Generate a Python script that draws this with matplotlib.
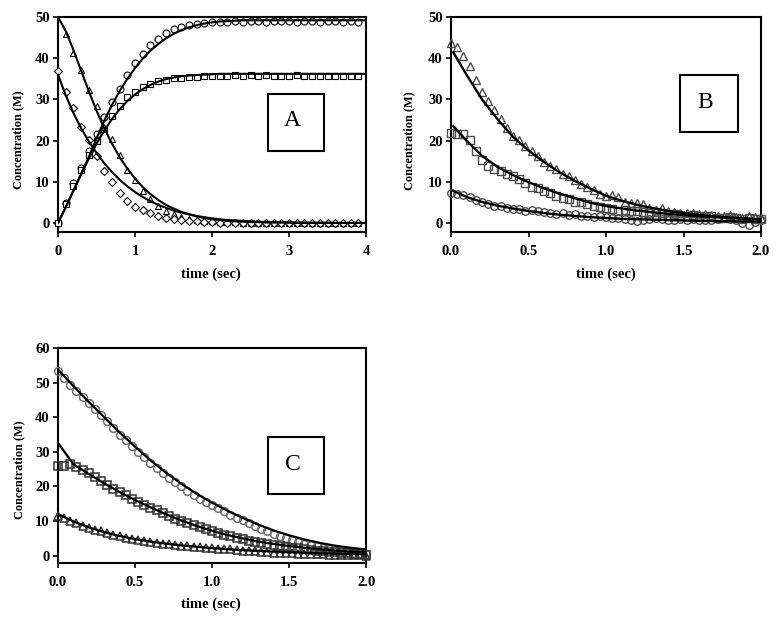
import numpy as np
import matplotlib
matplotlib.use("Agg")
import matplotlib.pyplot as plt
from matplotlib.patches import Rectangle

plt.rcParams['font.family'] = ['Liberation Serif', 'DejaVu Serif']

# ---------------- panel A ----------------
t_a = np.round(np.arange(0, 4.0, 0.1), 1)        # sampled points
t_a_fit = np.round(np.arange(0, 4.01, 0.1), 1)   # fitted curves

a_circle = [0, 4.9, 9.6, 13.4, 17.5, 21.5, 25.6, 29.4, 32.6, 35.8,
            38.8, 41.1, 43.2, 44.7, 46.2, 47.0, 47.6, 48.0, 48.4, 48.6,
            48.8, 48.8, 48.9, 49.0, 48.9, 49.0, 49.0, 48.9, 49.0, 49.0,
            49.0, 48.9, 49.0, 49.0, 48.9, 49.0, 49.0, 48.9, 49.0, 48.9]
a_square = [0, 4.5, 9.0, 12.8, 16.5, 20.0, 22.8, 25.9, 28.5, 30.6,
            31.9, 33.0, 33.8, 34.4, 34.8, 35.1, 35.3, 35.4, 35.5, 35.6,
            35.6, 35.7, 35.7, 35.8, 35.7, 35.8, 35.7, 35.8, 35.7, 35.6,
            35.7, 35.8, 35.7, 35.6, 35.7, 35.6, 35.6, 35.7, 35.6, 35.6]
a_triangle = [np.nan, 45.8, 41.3, 37.2, 32.2, 28.3, 23.2, 20.4, 16.5, 12.8,
              10.4, 7.8, 5.7, 4.1, 2.9, 2.2, 1.5, 1.0, 0.7, 0.5,
              0.4, 0.3, 0.2, 0.2, 0.1, 0.1, 0.1, 0.1, 0.1, 0.1,
              0.1, 0.1, 0.1, 0.1, 0.1, 0.1, 0.1, 0.1, 0.1, 0.1]
a_diamond = [37, 31.8, 27.8, 23.3, 20.2, 16.3, 12.6, 10.0, 7.3, 5.4,
             3.9, 3.1, 2.3, 1.7, 1.2, 0.9, 0.7, 0.5, 0.4, 0.3,
             0.2, 0.1, 0.1, 0, 0, 0, 0, 0, 0, 0,
             0, 0, 0, 0, 0, 0, 0, 0, 0, 0]

a_circle_fit = [0, 3.8, 7.8, 11.9, 16.0, 20.5, 24.8, 28.6, 32.0, 35.0,
                37.6, 39.9, 41.8, 43.4, 44.8, 45.9, 46.8, 47.5, 48.0, 48.4,
                48.7, 48.9, 49.0, 49.1, 49.2, 49.2, 49.2, 49.2, 49.2, 49.2,
                49.2, 49.2, 49.2, 49.2, 49.2, 49.2, 49.2, 49.2, 49.2, 49.2, 49.2]
a_square_fit = [0, 3.8, 7.8, 11.8, 15.6, 19.2, 22.4, 25.2, 27.6, 29.6,
                31.2, 32.5, 33.5, 34.3, 34.9, 35.3, 35.6, 35.8, 35.9, 36.0,
                36.1, 36.2, 36.2, 36.2, 36.2, 36.2, 36.2, 36.2, 36.2, 36.2,
                36.2, 36.2, 36.2, 36.2, 36.2, 36.2, 36.2, 36.2, 36.2, 36.2, 36.2]
a_triangle_fit = [50, 46.6, 42.0, 37.0, 32.0, 27.3, 23.0, 19.3, 16.0, 13.2,
                  10.8, 8.7, 7.0, 5.6, 4.4, 3.5, 2.7, 2.1, 1.6, 1.2,
                  0.9, 0.7, 0.5, 0.4, 0.3, 0.2, 0.2, 0.1, 0.1, 0.1,
                  0.1, 0, 0, 0, 0, 0, 0, 0, 0, 0, 0]
a_diamond_fit = [36, 31.0, 26.7, 23.0, 19.8, 17.0, 14.5, 12.4, 10.5, 8.9,
                 7.5, 6.3, 5.3, 4.4, 3.7, 3.0, 2.5, 2.1, 1.7, 1.4,
                 1.1, 0.9, 0.7, 0.6, 0.5, 0.4, 0.3, 0.25, 0.2, 0.15,
                 0.1, 0.1, 0.1, 0.05, 0.05, 0.05, 0, 0, 0, 0, 0]

# ---------------- panel B ----------------
t_bc = np.round(np.arange(0, 2.001, 0.04), 2)
t_b_fit = [0.015, 0.1, 0.2, 0.3, 0.4, 0.5, 0.6, 0.7, 0.8, 0.9, 1.0,
           1.1, 1.2, 1.3, 1.4, 1.5, 1.6, 1.7, 1.8, 1.9, 2.0]

b_top = [43.8, 42.8, 40.5, 38.2, 34.8, 31.8, 29.6, 27.4, 25.3, 23.0,
         21.0, 20.2, 18.6, 17.5, 16.3, 14.8, 13.8, 13.0, 12.0, 11.5,
         10.4, 9.5, 8.7, 8.0, 7.1, 6.6, 6.7, 6.4, 5.2, 4.8,
         4.9, 4.5, 3.6, 3.2, 3.6, 3.0, 2.7, 2.4, 2.5, 2.3,
         2.1, 2.2, 1.9, 1.7, 1.8, 1.9, 1.5, 1.3, 1.6, 1.4, 1.3]
b_mid = [21.8, 21.6, 21.5, 20.2, 17.5, 15.4, 13.8, 13.0, 12.5, 11.8,
         11.4, 10.6, 9.6, 8.8, 8.4, 7.7, 7.2, 6.6, 6.0, 5.8,
         5.2, 5.0, 4.5, 4.2, 3.9, 3.6, 3.3, 3.0, 3.1, 2.9,
         3.0, 2.6, 2.4, 2.6, 2.3, 2.0, 2.2, 1.9, 1.8, 1.9,
         1.6, 1.5, 1.6, 1.3, 1.2, 1.4, 1.1, 1.0, 1.2, 0.9, 1.0]
b_low = [7.2, 7.0, 6.7, 6.3, 5.6, 5.2, 4.6, 4.0, 4.1, 3.7,
         3.4, 3.3, 3.0, 3.1, 2.8, 2.7, 2.4, 2.2, 2.3, 2.0,
         2.1, 1.8, 1.6, 1.5, 1.6, 1.4, 1.3, 1.2, 1.0, 0.8,
         0.5, 0.7, 1.0, 1.2, 1.0, 0.6, 0.8, 0.9, 0.8, 1.0,
         0.7, 0.6, 0.8, 1.0, 1.2, 1.0, 0.7, 0.1, -0.4, 0.2, 0.6]

b_top_fit = [41.4, 36.0, 30.0, 25.2, 20.9, 17.6, 14.8, 12.3, 10.2, 8.3,
             6.6, 5.4, 4.4, 3.6, 2.9, 2.4, 2.0, 1.6, 1.3, 1.1, 0.9]
b_mid_fit = [23.5, 20.0, 16.3, 13.6, 11.6, 9.9, 8.4, 7.1, 6.0, 4.9,
             4.1, 3.5, 3.0, 2.6, 2.2, 1.9, 1.6, 1.4, 1.2, 1.0, 0.9]
b_low_fit = [7.8, 6.3, 5.1, 4.2, 3.5, 2.9, 2.4, 2.0, 1.7, 1.4,
             1.2, 1.0, 0.9, 0.8, 0.7, 0.6, 0.5, 0.45, 0.4, 0.35, 0.3]

# ---------------- panel C ----------------
t_c_fit = [0, 0.1, 0.2, 0.3, 0.4, 0.5, 0.6, 0.7, 0.8, 0.9, 1.0,
           1.1, 1.2, 1.3, 1.4, 1.5, 1.6, 1.7, 1.8, 1.9, 2.0]

c_top = [53.3, 51.4, 49.4, 47.6, 45.8, 44.0, 42.3, 40.6, 38.8, 36.9,
         35.0, 33.3, 31.6, 30.0, 28.4, 26.8, 25.3, 23.9, 22.5, 21.3,
         20.0, 18.8, 17.6, 16.5, 15.5, 14.6, 13.7, 12.8, 11.9, 11.0,
         10.2, 9.4, 8.6, 7.8, 7.0, 6.3, 5.6, 5.0, 4.4, 3.9,
         3.4, 3.0, 2.7, 2.3, 2.0, 1.7, 1.5, 1.2, 0.9, 0.7, 0.4]
c_mid = [26.0, 25.9, 26.6, 25.5, 24.7, 23.9, 22.8, 21.6, 20.5, 19.4,
         18.3, 17.4, 16.5, 15.6, 14.7, 13.9, 13.1, 12.3, 11.5, 10.7,
         10.0, 9.4, 8.8, 8.2, 7.6, 7.0, 6.5, 6.0, 5.6, 5.1,
         4.7, 4.3, 4.0, 3.6, 3.3, 3.0, 2.8, 2.5, 2.3, 2.1,
         1.9, 1.7, 1.5, 1.3, 1.2, 1.0, 0.8, 0.7, 0.5, 0.4, 0.3]
c_low = [11.5, 10.9, 10.1, 9.4, 8.7, 8.0, 7.5, 7.0, 6.5, 6.0,
         5.6, 5.2, 4.9, 4.6, 4.3, 4.0, 3.8, 3.5, 3.3, 3.1,
         2.9, 2.8, 2.6, 2.4, 2.3, 2.2, 2.0, 1.9, 1.8, 1.7,
         1.5, 1.4, 1.3, 1.2, 1.1, 0.9, 0.8, 0.7, 0.7, 0.6,
         0.5, 0.5, 0.4, 0.4, 0.3, 0.3, 0.2, 0.2, 0.1, 0.1, 0.0]

c_top_fit = [53.8, 49.0, 44.4, 40.0, 35.6, 31.5, 27.6, 24.0, 20.8, 17.9,
             15.3, 13.0, 10.9, 9.0, 7.3, 5.9, 4.7, 3.7, 2.9, 2.3, 1.8]
c_mid_fit = [32.6, 26.4, 23.6, 20.9, 18.4, 16.1, 14.0, 12.0, 10.2, 8.6,
             7.2, 6.0, 5.0, 4.1, 3.4, 2.8, 2.3, 1.9, 1.5, 1.2, 1.0]
c_low_fit = [12.0, 9.9, 8.2, 6.8, 5.7, 4.8, 4.1, 3.5, 3.0, 2.6,
             2.2, 1.9, 1.6, 1.4, 1.2, 1.0, 0.85, 0.7, 0.6, 0.5, 0.4]


W, H = 778, 624
fig = plt.figure(figsize=(W / 100, H / 100), dpi=100)


def px_axes(left, right, top, bottom):
    return fig.add_axes([left / W, 1 - bottom / H, (right - left) / W, (bottom - top) / H])


def style(ax, xlim, ylim, xticks, xfmt, yticks, ylab_xy, xlab_xy):
    ax.set_xlim(*xlim)
    ax.set_ylim(*ylim)
    ax.set_xticks(xticks)
    ax.set_xticklabels([xfmt.format(v) for v in xticks])
    ax.set_yticks(yticks)
    for s in ax.spines.values():
        s.set_linewidth(1.5)
    ax.tick_params(direction='out', length=3.6, width=1.2, labelsize=10.5)
    ax.tick_params(axis='x', pad=5.5)
    ax.tick_params(axis='y', pad=2.5)
    for lab in ax.get_xticklabels() + ax.get_yticklabels():
        lab.set_fontweight('bold')
    ax.set_xlabel('time (sec)', fontsize=10.5, fontweight='bold')
    ax.set_ylabel('Concentration (M)', fontsize=8.8, fontweight='bold')
    ax.yaxis.set_label_coords(*ylab_xy)
    ax.xaxis.set_label_coords(*xlab_xy)


def letter_box(ax, box, letter, pos):
    x0, x1, y0, y1 = box
    ax.add_patch(Rectangle((x0, y0), x1 - x0, y1 - y0, transform=ax.transAxes,
                           fill=False, lw=1.5, ec='black', zorder=5))
    ax.text(pos[0], pos[1], letter, transform=ax.transAxes, fontsize=17,
            ha='center', va='baseline', zorder=6)


# ---- A ----
axA = px_axes(58, 366, 17, 232)
mk = dict(ls='none', mfc='white', mec='black', mew=0.8, clip_on=False, zorder=3)
axA.plot(t_a, a_circle, marker='o', ms=5.0, **mk)
axA.plot(t_a, a_square, marker='s', ms=4.0, **mk)
axA.plot(t_a, a_triangle, marker='^', ms=4.8, **mk)
axA.plot(t_a, a_diamond, marker='D', ms=3.8, **mk)
for yf in (a_circle_fit, a_square_fit, a_triangle_fit, a_diamond_fit):
    axA.plot(t_a_fit, yf, color='black', lw=1.5, zorder=4)
style(axA, (0, 4), (-2.2, 50), [0, 1, 2, 3, 4], '{:g}', [0, 10, 20, 30, 40, 50],
      (-0.11, 0.43), (0.497, -0.167))
letter_box(axA, (0.681, 0.864, 0.378, 0.640), 'A', (0.761, 0.494))

# ---- B ----
axB = px_axes(451, 761, 17, 232)
mkb = dict(ls='none', mfc='none', mec='#4d4d4d', mew=1.0, ms=5.4, clip_on=False, zorder=3)
axB.plot(t_bc, b_top, marker='^', **mkb)
axB.plot(t_bc, b_mid, marker='s', **mkb)
axB.plot(t_bc, b_low, marker='o', **mkb)
for yf in (b_top_fit, b_mid_fit, b_low_fit):
    axB.plot(t_b_fit, yf, color='black', lw=1.7, zorder=4)
style(axB, (0, 2), (-2.2, 50), [0, 0.5, 1.0, 1.5, 2.0], '{:.1f}', [0, 10, 20, 30, 40, 50],
      (-0.116, 0.425), (0.498, -0.167))
letter_box(axB, (0.739, 0.925, 0.464, 0.729), 'B', (0.820, 0.578))

# ---- C ----
axC = px_axes(58, 366, 348, 563)
mkc = dict(ls='none', mfc='none', mew=1.1, ms=5.6, clip_on=False, zorder=3)
axC.plot(t_bc, c_top, marker='o', mec='#707070', **mkc)
axC.plot(t_bc, c_mid, marker='s', mec='#333333', **mkc)
axC.plot(t_bc, c_low, marker='^', mec='#333333', **mkc)
for yf in (c_top_fit, c_mid_fit, c_low_fit):
    axC.plot(t_c_fit, yf, color='black', lw=1.6, zorder=4)
style(axC, (0, 2), (-2.1, 60), [0, 0.5, 1.0, 1.5, 2.0], '{:.1f}', [0, 10, 20, 30, 40, 50, 60],
      (-0.107, 0.434), (0.497, -0.161))
letter_box(axC, (0.681, 0.864, 0.319, 0.584), 'C', (0.762, 0.434))

fig.savefig('out.png', dpi=100)
